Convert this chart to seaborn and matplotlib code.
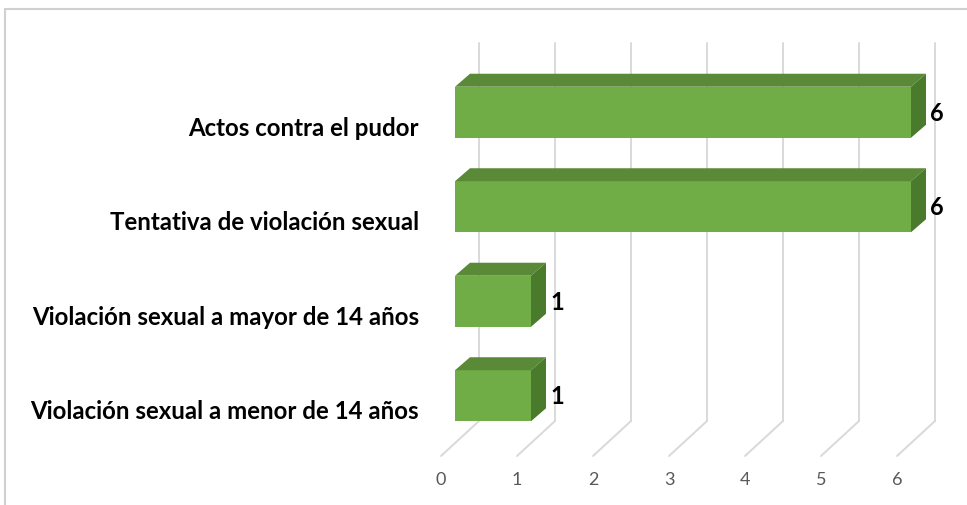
""" Delitos contra la libertad sexual - barras horizontales con efecto 3D """

import matplotlib
matplotlib.use("Agg")
import matplotlib.pyplot as plt
import matplotlib.transforms as mtransforms
from matplotlib.patches import Polygon
from matplotlib.lines import Line2D
import pandas as pd
import seaborn as sns

categorias = [
    "Actos contra el pudor",
    "Tentativa de violación sexual",
    "Violación sexual a mayor de 14 años",
    "Violación sexual a menor de 14 años",
]
casos = [6, 6, 1, 1]
ticks_x = [0, 1, 2, 3, 4, 5, 6]

VERDE = "#70ad47"
VERDE_TOP = "#5a8a38"
VERDE_LADO = "#4a7a2b"
GRIS = "#d9d9d9"

# profundidades en pixeles (dx, dy hacia arriba)
PROF_BARRA = (15, 13)
PISO_FRENTE = (-14, -13)
PARED_FONDO = (24, 22)

sns.set_style("white")
plt.rcParams["font.family"] = ["Lato", "DejaVu Sans"]

fig = plt.figure(figsize=(9.67, 5.06), dpi=100)
W, H = 967, 506
ax = fig.add_axes([455 / W, (H - 444) / H, 456 / W, 378 / H])

df = pd.DataFrame({"delito": categorias, "casos": casos})
sns.barplot(data=df, x="casos", y="delito", order=categorias, color=VERDE,
            saturation=1, width=0.54, orient="h", linewidth=0, ax=ax, zorder=2)

xmin, xmax = 0, ticks_x[-1]
ax.set_xlim(xmin, xmax)
ax.set_ylim(len(categorias) - 0.5, -0.5)


def off(dx, dy):
    """ pixeles -> unidades de datos """
    ux = (xmax - xmin) / ax.bbox.width
    uy = len(categorias) / ax.bbox.height
    return dx * ux, -dy * uy


# rejilla: pared del fondo y piso
ybot, ytop = ax.get_ylim()
bx, by = off(*PARED_FONDO)
fx, fy = off(*PISO_FRENTE)
for v in ticks_x:
    ax.add_line(Line2D([v + bx, v + bx], [ybot + by, ytop + by], color=GRIS,
                       lw=1.4, clip_on=False, zorder=0.5))
    ax.add_line(Line2D([v + fx, v + bx], [ybot + fy, ybot + by], color=GRIS,
                       lw=1.4, clip_on=False, zorder=0.5))

# caras superior y lateral de cada barra
px, py = off(*PROF_BARRA)
for bar, val in zip(ax.patches, casos):
    x0, y0 = bar.get_x(), bar.get_y()
    x1, y1 = x0 + bar.get_width(), y0 + bar.get_height()
    top = [(x0, y0), (x1, y0), (x1 + px, y0 + py), (x0 + px, y0 + py)]
    side = [(x1, y0), (x1 + px, y0 + py), (x1 + px, y1 + py), (x1, y1)]
    ax.add_patch(Polygon(top, closed=True, facecolor=VERDE_TOP, lw=0,
                         clip_on=False, zorder=2))
    ax.add_patch(Polygon(side, closed=True, facecolor=VERDE_LADO, lw=0,
                         clip_on=False, zorder=2))
    lx, _ = off(PROF_BARRA[0] + 4, 0)
    ax.text(x1 + lx, (y0 + y1) / 2, str(val), ha="left", va="center",
            fontsize=17, fontweight="bold", color="black", clip_on=False)

sns.despine(ax=ax, left=True, bottom=True)
ax.set_xlabel("")
ax.set_ylabel("")
ax.set_xticks(ticks_x)
ax.set_xticklabels([str(t) for t in ticks_x], fontsize=13, color="#595959")
ax.tick_params(axis="x", length=0, pad=20)
ax.tick_params(axis="y", length=0, pad=16)
for lab in ax.get_yticklabels():
    lab.set_fontsize(17.3)
    lab.set_fontweight("bold")
    lab.set_color("black")

# etiquetas en el borde frontal del piso
sh_y = mtransforms.ScaledTranslation(PISO_FRENTE[0] / fig.dpi, PISO_FRENTE[1] / fig.dpi,
                                     fig.dpi_scale_trans)
sh_x = mtransforms.ScaledTranslation(PISO_FRENTE[0] / fig.dpi, 0, fig.dpi_scale_trans)
for lab in ax.get_yticklabels():
    lab.set_transform(lab.get_transform() + sh_y)
for lab in ax.get_xticklabels():
    lab.set_transform(lab.get_transform() + sh_x)

# borde del area del grafico
fig.add_artist(Line2D([5 / W, 5 / W], [0, 1 - 10 / H], color="#d0d0d0", lw=1.5))
fig.add_artist(Line2D([5 / W, 1], [1 - 10 / H, 1 - 10 / H], color="#d0d0d0", lw=1.5))

fig.savefig("out.png", dpi=100)
